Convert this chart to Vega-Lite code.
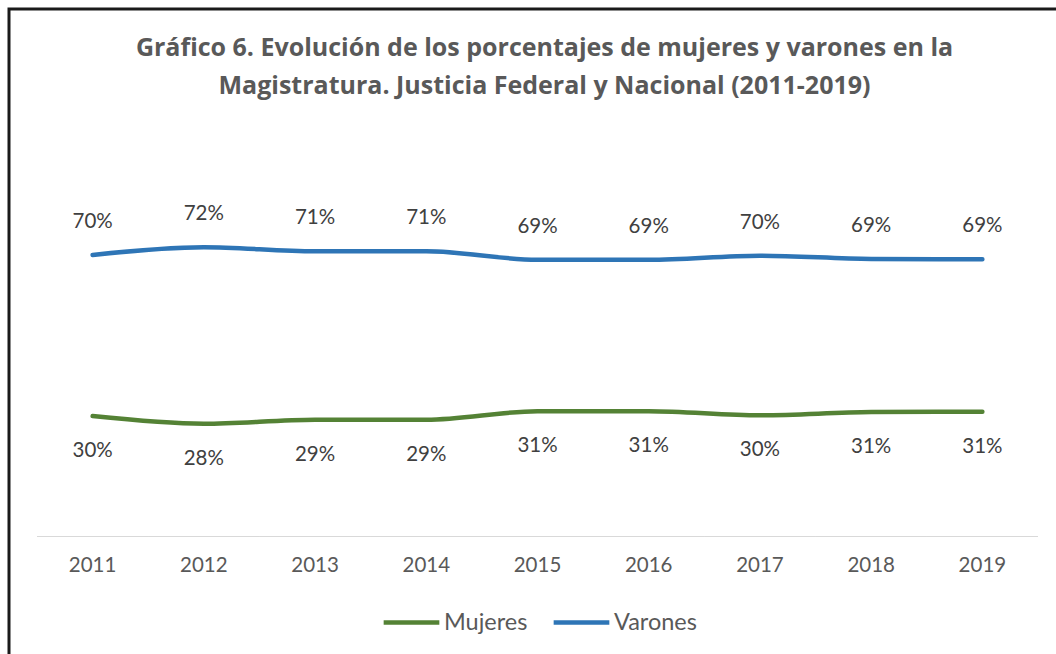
{
  "$schema": "https://vega.github.io/schema/vega-lite/v6.json",
  "autosize": "none",
  "padding": {"left": 9, "top": 9, "right": 0, "bottom": 0},
  "width": 1057,
  "height": 650,
  "background": "white",
  "title": {
    "text": ["Gráfico 6. Evolución de los porcentajes de mujeres y varones en la", "Magistratura. Justicia Federal y Nacional (2011-2019)"],
    "font": "Open Sans",
    "fontSize": 25,
    "fontWeight": "bold",
    "color": "#595959",
    "anchor": "middle",
    "lineHeight": 38,
    "offset": -90,
    "dx": 7
  },
  "config": {
    "view": {"stroke": "#1a1a1a", "strokeWidth": 3},
    "font": "Lato"
  },
  "data": {
    "values": [
      {"year": "2011", "serie": "Mujeres", "valor": 0.300},
      {"year": "2012", "serie": "Mujeres", "valor": 0.281},
      {"year": "2013", "serie": "Mujeres", "valor": 0.291},
      {"year": "2014", "serie": "Mujeres", "valor": 0.291},
      {"year": "2015", "serie": "Mujeres", "valor": 0.312},
      {"year": "2016", "serie": "Mujeres", "valor": 0.312},
      {"year": "2017", "serie": "Mujeres", "valor": 0.302},
      {"year": "2018", "serie": "Mujeres", "valor": 0.310},
      {"year": "2019", "serie": "Mujeres", "valor": 0.311},
      {"year": "2011", "serie": "Varones", "valor": 0.700},
      {"year": "2012", "serie": "Varones", "valor": 0.719},
      {"year": "2013", "serie": "Varones", "valor": 0.709},
      {"year": "2014", "serie": "Varones", "valor": 0.709},
      {"year": "2015", "serie": "Varones", "valor": 0.688},
      {"year": "2016", "serie": "Varones", "valor": 0.688},
      {"year": "2017", "serie": "Varones", "valor": 0.698},
      {"year": "2018", "serie": "Varones", "valor": 0.690},
      {"year": "2019", "serie": "Varones", "valor": 0.689}
    ]
  },
  "encoding": {
    "x": {
      "field": "year",
      "type": "ordinal",
      "scale": {"type": "band", "paddingInner": 0, "paddingOuter": 0.2518},
      "axis": {
        "title": null,
        "orient": "bottom",
        "offset": -122,
        "domain": false,
        "ticks": false,
        "tickSize": 0,
        "labelPadding": 18,
        "labelAngle": 0,
        "labelFont": "Lato",
        "labelFontSize": 20.5,
        "labelColor": "#595959",
        "grid": false
      }
    }
  },
  "layer": [
    {
      "mark": {"type": "bar", "color": "#d9d9d9"},
      "encoding": {
        "y": {"datum": 0, "type": "quantitative", "scale": {"domain": [-0.3027, 1.3102], "nice": false, "zero": false}, "axis": null},
        "y2": {"datum": 0.0028}
      }
    },
    {
      "mark": {"type": "line", "interpolate": "monotone", "strokeWidth": 4.5, "strokeCap": "round"},
      "encoding": {
        "y": {"field": "valor", "type": "quantitative", "scale": {"domain": [-0.3027, 1.3102], "nice": false, "zero": false}, "axis": null},
        "color": {
          "field": "serie",
          "type": "nominal",
          "scale": {"domain": ["Mujeres", "Varones"], "range": ["#548235", "#2e75b6"]},
          "legend": {
            "title": null,
            "orient": "none",
            "direction": "horizontal",
            "legendX": 372,
            "legendY": 583,
            "symbolType": "stroke",
            "symbolSize": 3100,
            "symbolStrokeWidth": 4.5,
            "labelFont": "Lato",
            "labelFontSize": 23.5,
            "labelColor": "#595959",
            "labelOffset": 2,
            "columnPadding": 16
          }
        }
      }
    },
    {
      "transform": [{"filter": "datum.serie === 'Varones'"}],
      "mark": {"type": "text", "dy": -33, "font": "Lato", "fontSize": 20.5, "color": "#404040"},
      "encoding": {
        "y": {"field": "valor", "type": "quantitative"},
        "text": {"field": "valor", "type": "quantitative", "format": ".0%"}
      }
    },
    {
      "transform": [{"filter": "datum.serie === 'Mujeres'"}],
      "mark": {"type": "text", "dy": 35, "font": "Lato", "fontSize": 20.5, "color": "#404040"},
      "encoding": {
        "y": {"field": "valor", "type": "quantitative"},
        "text": {"field": "valor", "type": "quantitative", "format": ".0%"}
      }
    }
  ]
}
